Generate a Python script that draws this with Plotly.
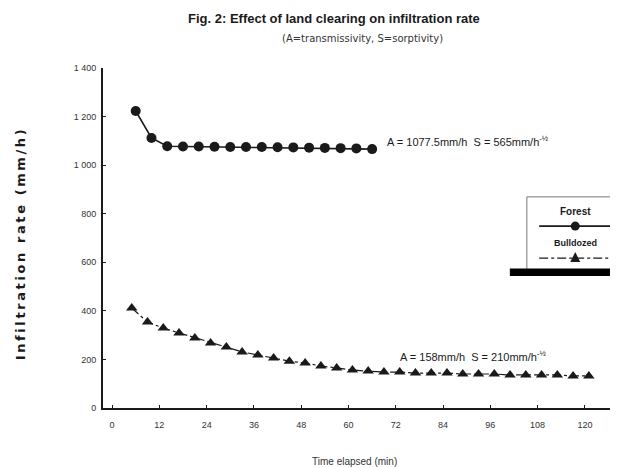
import plotly.graph_objects as go

# ---- data ----
forest_time = [6, 10, 14, 18, 22, 26, 30, 34, 38, 42, 46, 50, 54, 58, 62, 66]
forest_rate = [1223, 1112, 1078, 1077, 1077, 1076, 1075, 1075, 1075, 1074,
               1073, 1072, 1071, 1070, 1069, 1066]

bulldozed_time = [5, 9, 13, 17, 21, 25, 29, 33, 37, 41, 45, 49, 53, 57, 61,
                  65, 69, 73, 77, 81, 85, 89, 93, 97, 101, 105, 109, 113, 117, 121]
bulldozed_rate = [412, 354, 329, 309, 288, 268, 251, 231, 218, 206, 193, 185,
                  173, 165, 156, 152, 148, 148, 144, 144, 144, 140, 140, 140,
                  136, 136, 136, 136, 132, 132]

x_ticks = [0, 12, 24, 36, 48, 60, 72, 84, 96, 108, 120]
y_ticks = [0, 200, 400, 600, 800, 1000, 1200, 1400]
y_tick_labels = ["0", "200", "400", "600", "800", "1 000", "1 200", "1 400"]

FONT = "Liberation Sans"
WIDE = "DejaVu Sans"
INK = "#1a1a1a"

fig = go.Figure()
fig.add_trace(go.Scatter(
    x=forest_time, y=forest_rate, mode="lines+markers", name="Forest",
    line=dict(color=INK, width=1.6),
    marker=dict(symbol="circle", size=10, color=INK),
    showlegend=False))
fig.add_trace(go.Scatter(
    x=bulldozed_time, y=bulldozed_rate, mode="lines+markers", name="Bulldozed",
    line=dict(color=INK, width=1.2, dash="dashdot"),
    marker=dict(symbol="triangle-up", size=10, color=INK),
    showlegend=False))

# the page body adds an 8px offset, so the figure is 8px smaller on each side
fig.update_layout(
    width=610, height=460,
    margin=dict(l=95, r=0, t=60, b=60),
    paper_bgcolor="white", plot_bgcolor="white",
    font=dict(family=FONT, color=INK, size=9),
    showlegend=False,
)
fig.update_xaxes(
    range=[-2.3, 128.4], tickvals=x_ticks, ticktext=[str(t) for t in x_ticks],
    showgrid=False, zeroline=False, showline=True, linecolor=INK, linewidth=1.5,
    ticks="inside", ticklen=3, tickcolor=INK, tickfont=dict(size=9, color="#333"),
    ticklabelstandoff=7,
)
fig.update_yaxes(
    range=[0, 1400], tickvals=y_ticks, ticktext=y_tick_labels,
    showgrid=False, zeroline=False, showline=True, linecolor=INK, linewidth=2,
    ticks="inside", ticklen=3, tickcolor=INK, tickfont=dict(size=9, color="#333"),
    ticklabelstandoff=3,
)

ytitle = "\u2009".join("Infiltration rate (mm/h)")

ann = [
    dict(text="<b>Fig. 2: Effect of land clearing on infiltration rate</b>",
         x=0.449, y=1.147, font=dict(size=13, color=INK)),
    dict(text="(A=transmissivity, S=sorptivity)",
         x=0.503, y=1.088, font=dict(family=WIDE, size=10, color="#333")),
    dict(text=f"<b>{ytitle}</b>", x=-0.161, y=0.479,
         textangle=-90, font=dict(family=WIDE, size=13, color=INK)),
    dict(text="Time elapsed (min)", x=0.489, y=-0.156,
         font=dict(size=10, color="#333")),
    dict(text="A = 1077.5mm/h  S = 565mm/h<sup>-½</sup>", x=0.548, y=0.785,
         xanchor="left", font=dict(size=11, color=INK)),
    dict(text="A = 158mm/h  S = 210mm/h<sup>-½</sup>", x=0.573, y=0.153,
         xanchor="left", font=dict(size=11, color=INK)),
    dict(text="<b>Forest</b>", x=0.917, y=0.578, font=dict(size=10, color=INK)),
    dict(text="<b>Bulldozed</b>", x=0.917, y=0.484, font=dict(size=9, color=INK)),
]
for a in ann:
    a.setdefault("xanchor", "center")
    a.update(xref="paper", yref="paper", yanchor="middle", showarrow=False)
fig.update_layout(annotations=ann)

# custom legend box (text above each sample, as in the original)
sx = 515.0
sy = 340.0
cx = 0.917
shapes = [
    dict(type="rect", x0=0.823, x1=1.0, y0=0.395, y1=0.621,
         line=dict(color="#777", width=1)),
    dict(type="line", x0=0.847, x1=0.985, y0=0.535, y1=0.535,
         line=dict(color=INK, width=1.6)),
    dict(type="circle", x0=cx - 4.5 / sx, x1=cx + 4.5 / sx,
         y0=0.535 - 4.5 / sy, y1=0.535 + 4.5 / sy,
         fillcolor=INK, line=dict(color=INK, width=0)),
    dict(type="line", x0=0.847, x1=0.985, y0=0.441, y1=0.441,
         line=dict(color=INK, width=1.2, dash="dashdot")),
    dict(type="path",
         path=f"M {cx - 5 / sx} {0.441 - 4 / sy} L {cx + 5 / sx} {0.441 - 4 / sy} "
              f"L {cx} {0.441 + 6 / sy} Z",
         fillcolor=INK, line=dict(color=INK, width=0)),
    dict(type="rect", x0=0.790, x1=1.0, y0=0.388, y1=0.410,
         fillcolor="black", line=dict(width=0)),
]
for s in shapes:
    s.update(xref="paper", yref="paper")
fig.update_layout(shapes=shapes)

fig.write_html("out.html")
